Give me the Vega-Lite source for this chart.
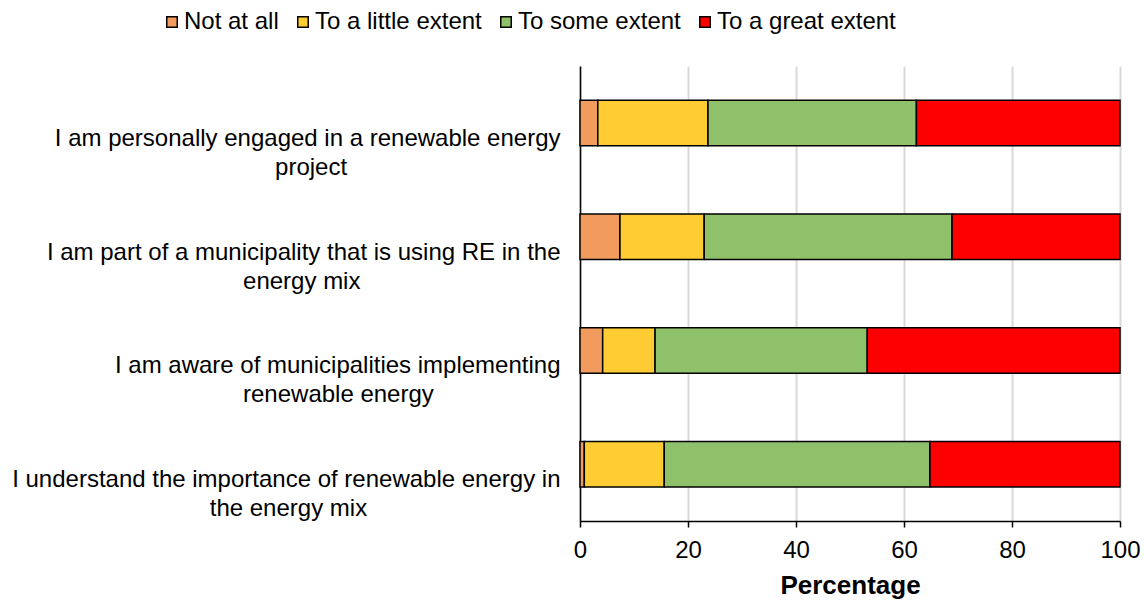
{
  "$schema": "https://vega.github.io/schema/vega-lite/v6.json",
  "width": 540,
  "height": 455,
  "autosize": {"type": "none"},
  "padding": {"left": 580, "top": 66, "right": 24, "bottom": 79},
  "background": "white",
  "data": {
    "values": [
      {"q": "I am personally engaged in a renewable energy|project\u00a0\u00a0\u00a0\u00a0\u00a0\u00a0\u00a0\u00a0\u00a0\u00a0\u00a0\u00a0\u00a0\u00a0\u00a0\u00a0\u00a0\u00a0\u00a0\u00a0\u00a0\u00a0\u00a0\u00a0\u00a0\u00a0\u00a0\u00a0\u00a0\u00a0\u00a0\u00a0\u2060", "r": "Not at all", "o": 1, "v": 3.3},
      {"q": "I am personally engaged in a renewable energy|project\u00a0\u00a0\u00a0\u00a0\u00a0\u00a0\u00a0\u00a0\u00a0\u00a0\u00a0\u00a0\u00a0\u00a0\u00a0\u00a0\u00a0\u00a0\u00a0\u00a0\u00a0\u00a0\u00a0\u00a0\u00a0\u00a0\u00a0\u00a0\u00a0\u00a0\u00a0\u00a0\u2060", "r": "To a little extent", "o": 2, "v": 20.4},
      {"q": "I am personally engaged in a renewable energy|project\u00a0\u00a0\u00a0\u00a0\u00a0\u00a0\u00a0\u00a0\u00a0\u00a0\u00a0\u00a0\u00a0\u00a0\u00a0\u00a0\u00a0\u00a0\u00a0\u00a0\u00a0\u00a0\u00a0\u00a0\u00a0\u00a0\u00a0\u00a0\u00a0\u00a0\u00a0\u00a0\u2060", "r": "To some extent", "o": 3, "v": 38.6},
      {"q": "I am personally engaged in a renewable energy|project\u00a0\u00a0\u00a0\u00a0\u00a0\u00a0\u00a0\u00a0\u00a0\u00a0\u00a0\u00a0\u00a0\u00a0\u00a0\u00a0\u00a0\u00a0\u00a0\u00a0\u00a0\u00a0\u00a0\u00a0\u00a0\u00a0\u00a0\u00a0\u00a0\u00a0\u00a0\u00a0\u2060", "r": "To a great extent", "o": 4, "v": 37.7},
      {"q": "I am part of a municipality that is using RE in the|energy mix\u00a0\u00a0\u00a0\u00a0\u00a0\u00a0\u00a0\u00a0\u00a0\u00a0\u00a0\u00a0\u00a0\u00a0\u00a0\u00a0\u00a0\u00a0\u00a0\u00a0\u00a0\u00a0\u00a0\u00a0\u00a0\u00a0\u00a0\u00a0\u00a0\u00a0\u2060", "r": "Not at all", "o": 1, "v": 7.4},
      {"q": "I am part of a municipality that is using RE in the|energy mix\u00a0\u00a0\u00a0\u00a0\u00a0\u00a0\u00a0\u00a0\u00a0\u00a0\u00a0\u00a0\u00a0\u00a0\u00a0\u00a0\u00a0\u00a0\u00a0\u00a0\u00a0\u00a0\u00a0\u00a0\u00a0\u00a0\u00a0\u00a0\u00a0\u00a0\u2060", "r": "To a little extent", "o": 2, "v": 15.6},
      {"q": "I am part of a municipality that is using RE in the|energy mix\u00a0\u00a0\u00a0\u00a0\u00a0\u00a0\u00a0\u00a0\u00a0\u00a0\u00a0\u00a0\u00a0\u00a0\u00a0\u00a0\u00a0\u00a0\u00a0\u00a0\u00a0\u00a0\u00a0\u00a0\u00a0\u00a0\u00a0\u00a0\u00a0\u00a0\u2060", "r": "To some extent", "o": 3, "v": 45.9},
      {"q": "I am part of a municipality that is using RE in the|energy mix\u00a0\u00a0\u00a0\u00a0\u00a0\u00a0\u00a0\u00a0\u00a0\u00a0\u00a0\u00a0\u00a0\u00a0\u00a0\u00a0\u00a0\u00a0\u00a0\u00a0\u00a0\u00a0\u00a0\u00a0\u00a0\u00a0\u00a0\u00a0\u00a0\u00a0\u2060", "r": "To a great extent", "o": 4, "v": 31.1},
      {"q": "I am aware of municipalities implementing|renewable energy\u00a0\u00a0\u00a0\u00a0\u00a0\u00a0\u00a0\u00a0\u00a0\u00a0\u00a0\u00a0\u00a0\u00a0\u00a0\u00a0\u00a0\u00a0\u00a0\u2060", "r": "Not at all", "o": 1, "v": 4.2},
      {"q": "I am aware of municipalities implementing|renewable energy\u00a0\u00a0\u00a0\u00a0\u00a0\u00a0\u00a0\u00a0\u00a0\u00a0\u00a0\u00a0\u00a0\u00a0\u00a0\u00a0\u00a0\u00a0\u00a0\u2060", "r": "To a little extent", "o": 2, "v": 9.7},
      {"q": "I am aware of municipalities implementing|renewable energy\u00a0\u00a0\u00a0\u00a0\u00a0\u00a0\u00a0\u00a0\u00a0\u00a0\u00a0\u00a0\u00a0\u00a0\u00a0\u00a0\u00a0\u00a0\u00a0\u2060", "r": "To some extent", "o": 3, "v": 39.3},
      {"q": "I am aware of municipalities implementing|renewable energy\u00a0\u00a0\u00a0\u00a0\u00a0\u00a0\u00a0\u00a0\u00a0\u00a0\u00a0\u00a0\u00a0\u00a0\u00a0\u00a0\u00a0\u00a0\u00a0\u2060", "r": "To a great extent", "o": 4, "v": 46.8},
      {"q": "I understand the importance of renewable energy in|the energy mix\u00a0\u00a0\u00a0\u00a0\u00a0\u00a0\u00a0\u00a0\u00a0\u00a0\u00a0\u00a0\u00a0\u00a0\u00a0\u00a0\u00a0\u00a0\u00a0\u00a0\u00a0\u00a0\u00a0\u00a0\u00a0\u00a0\u00a0\u00a0\u00a0\u2060", "r": "Not at all", "o": 1, "v": 0.8},
      {"q": "I understand the importance of renewable energy in|the energy mix\u00a0\u00a0\u00a0\u00a0\u00a0\u00a0\u00a0\u00a0\u00a0\u00a0\u00a0\u00a0\u00a0\u00a0\u00a0\u00a0\u00a0\u00a0\u00a0\u00a0\u00a0\u00a0\u00a0\u00a0\u00a0\u00a0\u00a0\u00a0\u00a0\u2060", "r": "To a little extent", "o": 2, "v": 14.8},
      {"q": "I understand the importance of renewable energy in|the energy mix\u00a0\u00a0\u00a0\u00a0\u00a0\u00a0\u00a0\u00a0\u00a0\u00a0\u00a0\u00a0\u00a0\u00a0\u00a0\u00a0\u00a0\u00a0\u00a0\u00a0\u00a0\u00a0\u00a0\u00a0\u00a0\u00a0\u00a0\u00a0\u00a0\u2060", "r": "To some extent", "o": 3, "v": 49.2},
      {"q": "I understand the importance of renewable energy in|the energy mix\u00a0\u00a0\u00a0\u00a0\u00a0\u00a0\u00a0\u00a0\u00a0\u00a0\u00a0\u00a0\u00a0\u00a0\u00a0\u00a0\u00a0\u00a0\u00a0\u00a0\u00a0\u00a0\u00a0\u00a0\u00a0\u00a0\u00a0\u00a0\u00a0\u2060", "r": "To a great extent", "o": 4, "v": 35.2}
    ]
  },
  "mark": {"type": "bar", "stroke": "black", "strokeWidth": 1.5},
  "encoding": {
    "y": {
      "field": "q",
      "type": "nominal",
      "sort": null,
      "scale": {"paddingInner": 0.6, "paddingOuter": 0.3},
      "axis": {
        "title": null,
        "ticks": false,
        "grid": false,
        "labelExpr": "split(datum.label, '|')",
        "labelFont": "Liberation Sans",
        "labelFontSize": 24,
        "labelColor": "black",
        "labelAlign": "right",
        "labelPadding": 20,
        "labelOffset": 16,
        "labelLineHeight": 29,
        "labelLimit": 700,
        "domainColor": "black",
        "domainWidth": 1.5
      }
    },
    "x": {
      "field": "v",
      "type": "quantitative",
      "stack": "zero",
      "scale": {"domain": [0, 100], "nice": false},
      "axis": {
        "title": "Percentage",
        "titleFont": "Liberation Sans",
        "titleFontSize": 26,
        "titleFontWeight": "bold",
        "titleColor": "black",
        "titlePadding": 10,
        "values": [0, 20, 40, 60, 80, 100],
        "labelFlush": false,
        "labelFont": "Liberation Sans",
        "labelFontSize": 24,
        "labelColor": "black",
        "labelPadding": 11,
        "tickColor": "black",
        "tickSize": 6,
        "tickWidth": 1.5,
        "domainColor": "black",
        "domainWidth": 1.5,
        "grid": true,
        "gridColor": "#D9D9D9",
        "gridWidth": 2
      }
    },
    "color": {
      "field": "r",
      "type": "nominal",
      "scale": {
        "domain": ["Not at all", "To a little extent", "To some extent", "To a great extent"],
        "range": ["#F19B5E", "#FFCD33", "#8EC16A", "#FF0000"]
      },
      "legend": {
        "title": null,
        "orient": "none",
        "direction": "horizontal",
        "legendX": -420,
        "legendY": -56,
        "symbolType": "square",
        "symbolSize": 110,
        "symbolStrokeColor": "black",
        "symbolStrokeWidth": 1.5,
        "symbolOpacity": 1,
        "labelFont": "Liberation Sans",
        "labelFontSize": 24,
        "labelColor": "black",
        "labelOffset": 0,
        "columnPadding": 12,
        "labelLimit": 400
      }
    },
    "order": {"field": "o", "type": "quantitative"}
  },
  "config": {
    "view": {"stroke": null}
  }
}
